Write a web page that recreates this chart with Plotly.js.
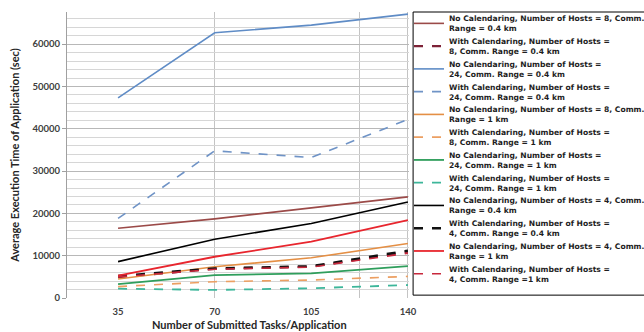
<!DOCTYPE html>
<html>
<head>
<meta charset="utf-8">
<script src="https://cdn.plot.ly/plotly-3.0.1.min.js"></script>
<style>html,body{margin:0;padding:0;background:#fff}#chart{width:644px;height:332px}</style>
</head>
<body>
<div id="chart"></div>
<script>
// Categories (x)
var tasks = [35, 70, 105, 140];
var xTickLabels = ["35", "70", "105", "140"];

// Series values (Average Execution Time, sec)
var noCal8h04 = [16500, 18700, 21300, 23900];
var withCal8h04 = [4900, 6900, 7400, 10900];
var noCal24h04 = [47300, 62700, 64500, 67100];
var withCal24h04 = [18800, 34800, 33200, 42200];
var noCal8h1 = [4500, 7400, 9500, 12900];
var withCal8h1 = [2700, 3850, 4250, 5100];
var noCal24h1 = [3300, 5400, 5800, 7550];
var withCal24h1 = [2200, 1900, 2300, 3070];
var noCal4h04 = [8600, 13900, 17600, 22700];
var withCal4h04 = [5200, 7000, 7500, 11200];
var noCal4h1 = [5300, 9750, 13300, 18400];
var withCal4h1 = [5000, 6800, 7300, 10600];

var seriesNames = [
  "No Calendaring, Number of Hosts = 8, Comm.<br>Range = 0.4 km",
  "With Calendaring, Number of Hosts =<br>8, Comm. Range = 0.4 km",
  "No Calendaring, Number of Hosts =<br>24, Comm. Range = 0.4 km",
  "With Calendaring, Number of Hosts =<br>24, Comm. Range = 0.4 km",
  "No Calendaring, Number of Hosts = 8, Comm.<br>Range = 1 km",
  "With Calendaring, Number of Hosts =<br>8, Comm. Range = 1 km",
  "No Calendaring, Number of Hosts =<br>24, Comm. Range = 1 km",
  "With Calendaring, Number of Hosts =<br>24, Comm. Range = 1 km",
  "No Calendaring, Number of Hosts = 4, Comm.<br>Range = 0.4 km",
  "With Calendaring, Number of Hosts =<br>4, Comm. Range = 0.4 km",
  "No Calendaring, Number of Hosts = 4, Comm.<br>Range = 1 km",
  "With Calendaring, Number of Hosts =<br>4, Comm. Range =1 km"
];
var seriesValues = [noCal8h04, withCal8h04, noCal24h04, withCal24h04, noCal8h1, withCal8h1,
                    noCal24h1, withCal24h1, noCal4h04, withCal4h04, noCal4h1, withCal4h1];

var styles = [
  {color: "#9b4a48", width: 1.6, dash: "solid"},
  {color: "#7d2237", width: 2.2, dash: "dash"},
  {color: "#5f8cc6", width: 1.6, dash: "solid"},
  {color: "#6f93c6", width: 1.6, dash: "dash"},
  {color: "#e48f45", width: 1.6, dash: "solid"},
  {color: "#ec9f62", width: 1.6, dash: "dash"},
  {color: "#2f9e5c", width: 1.8, dash: "solid"},
  {color: "#3db69a", width: 1.8, dash: "dash"},
  {color: "#000000", width: 1.6, dash: "solid"},
  {color: "#111111", width: 2.4, dash: "dash"},
  {color: "#e8262e", width: 1.8, dash: "solid"},
  {color: "#c8283c", width: 1.6, dash: "dash"}
];

var xGridVals = [70, 122.5, 140];

var traces = seriesNames.map(function (n, i) {
  return {
    type: "scatter", mode: "lines", name: n, x: tasks, y: seriesValues[i],
    line: {color: styles[i].color, width: styles[i].width, dash: styles[i].dash}
  };
});

var font = "Lato, 'Open Sans', sans-serif";
var legendFont = "'DejaVu Sans', sans-serif";
var layout = {
  width: 644, height: 332,
  margin: {l: 67, r: 235, t: 12, b: 34, autoexpand: false},
  paper_bgcolor: "#ffffff", plot_bgcolor: "#ffffff",
  font: {family: font, size: 9, color: "#404040", weight: "bold"},
  showlegend: true,
  legend: {
    xref: "paper", yref: "paper",
    x: 1.0, y: 1.0175, xanchor: "left", yanchor: "top",
    maxheight: 332,
    font: {family: legendFont, size: 7.6, color: "#1e1e1e", weight: "bold"},
    bgcolor: "rgba(0,0,0,0)", borderwidth: 0,
    tracegroupgap: 0
  },
  xaxis: {
    range: [16.5, 140.4], tickmode: "array", tickvals: tasks, ticktext: xTickLabels,
    showgrid: false, zeroline: false, showline: false, ticks: "", ticklabelstandoff: 6,
    tickfont: {family: font, size: 9.5, color: "#404040", weight: "bold"},
    minor: {tickmode: "array", tickvals: xGridVals, showgrid: true, gridcolor: "#c4c4c4", gridwidth: 1, ticks: ""},
    automargin: false
  },
  yaxis: {
    range: [0, 67600], tickmode: "linear", tick0: 0, dtick: 10000, tickformat: "d",
    showgrid: true, gridcolor: "#b8b8b8", gridwidth: 1,
    minor: {dtick: 2000, showgrid: true, gridcolor: "#d6d6d6", gridwidth: 1},
    zeroline: false, showline: true, linecolor: "#a0a0a0", linewidth: 1,
    ticks: "outside", ticklen: 4, tickcolor: "#a0a0a0",
    tickfont: {family: font, size: 9.5, color: "#404040", weight: "bold"},
    title: {text: "Average Execution Time of Application (sec)", font: {family: font, size: 11, color: "#262626", weight: "bold"}, standoff: 10},
    automargin: false
  },
  annotations: [{
    text: "Number of Submitted Tasks/Application", xref: "paper", yref: "paper",
    x: 0.535, y: -0.094, xanchor: "center", yanchor: "middle", showarrow: false,
    font: {family: font, size: 11, color: "#262626", weight: "bold"}
  }],
  shapes: [{
    type: "rect", xref: "paper", yref: "paper", x0: 1.012, x1: 1.8, y0: 0.01, y1: 1.0,
    line: {color: "#000000", width: 1}, fillcolor: "rgba(0,0,0,0)", layer: "below"
  }]
};

Plotly.newPlot("chart", traces, layout, {displayModeBar: false, staticPlot: true});
</script>
</body>
</html>
